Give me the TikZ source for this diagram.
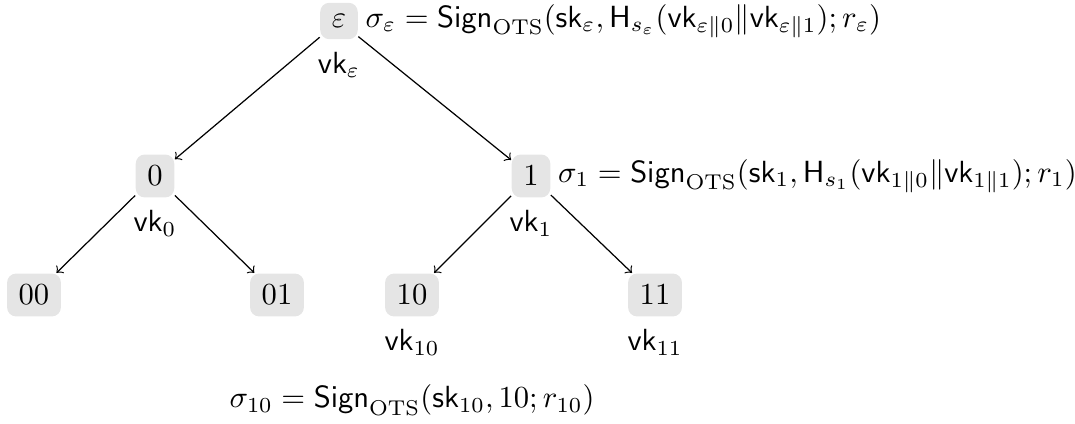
\documentclass[tikz,border=0pt]{standalone}
\usepackage{amsmath}
\begin{document}
\begin{tikzpicture}[x=0.3268pt,y=-0.3268pt,
  tn/.style={fill=gray!20,rounded corners=3pt,inner sep=3.8pt},
  edge/.style={->},
  vk/.style={inner sep=3.33pt},
  sig/.style={inner sep=2.2pt},
  vkb/.style={vk,label distance=0.5pt}]
\useasboundingbox (0,0) rectangle (1075,424);
\node[tn,label={[vkb]below:$\mathsf{vk}_{\varepsilon}$},
  label={[sig]right:$\sigma_{\varepsilon}=\mathsf{Sign}_{\mathrm{OTS}}(\mathsf{sk}_{\varepsilon},\mathsf{H}_{s_{\varepsilon}}(\mathsf{vk}_{\varepsilon\|0}\|\mathsf{vk}_{\varepsilon\|1});r_{\varepsilon})$}]
  (e) at (339,21) {$\varepsilon$};
\node[tn,label={[vkb]below:$\mathsf{vk}_{0}$}] (n0) at (155,176) {$0$};
\node[tn,label={[vkb]below:$\mathsf{vk}_{1}$},
  label={[sig]right:$\sigma_{1}=\mathsf{Sign}_{\mathrm{OTS}}(\mathsf{sk}_{1},\mathsf{H}_{s_{1}}(\mathsf{vk}_{1\|0}\|\mathsf{vk}_{1\|1});r_{1})$}]
  (n1) at (531,176) {$1$};
\node[tn] (n00) at (34,295) {$00$};
\node[tn] (n01) at (277,295) {$01$};
\node[tn,label={[vkb]below:$\mathsf{vk}_{10}$}] (n10) at (412,295) {$10$};
\node[tn,label={[vkb]below:$\mathsf{vk}_{11}$}] (n11) at (655,295) {$11$};
\node (s10) at (412,400) {$\sigma_{10}=\mathsf{Sign}_{\mathrm{OTS}}(\mathsf{sk}_{10},10;r_{10})$};
\draw[edge] (e) -- (n0);
\draw[edge] (e) -- (n1);
\draw[edge] (n0) -- (n00);
\draw[edge] (n0) -- (n01);
\draw[edge] (n1) -- (n10);
\draw[edge] (n1) -- (n11);
\end{tikzpicture}
\end{document}
